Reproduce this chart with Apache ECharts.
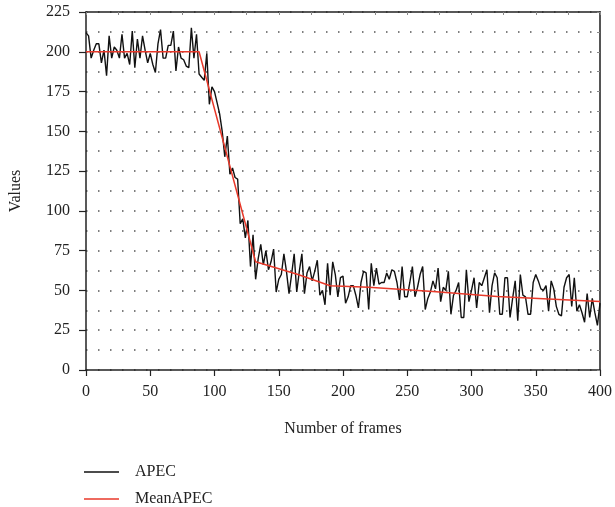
<!DOCTYPE html>
<html>
<head>
<meta charset="utf-8">
<script src="https://cdn.jsdelivr.net/npm/echarts@6/dist/echarts.min.js"></script>
<style>
  html, body { margin: 0; padding: 0; background: #fff; }
  #chart { width: 615px; height: 507px; }
</style>
</head>
<body>
<div id="chart"></div>
<script>
// APEC sampled every 2 frames (0..400)
var frameStep = 2;
var apecValues = [
  212, 210, 196, 201, 205, 205, 193, 201, 185, 210,
  196, 203, 201, 196, 211, 196, 199, 192, 213, 190,
  208, 196, 210, 201, 193, 199, 192, 187, 205, 214,
  196, 196, 204, 204, 213, 188, 203, 196, 195, 191,
  190, 215, 196, 211, 186, 184, 182, 199, 167, 178,
  175, 168, 161, 150, 134, 147, 123, 127, 121, 120,
  92, 95, 83, 94, 65, 85, 57, 70, 79, 66,
  75, 63, 68, 76, 49, 57, 60, 73, 62, 48,
  60, 73, 49, 62, 73, 48, 61, 65, 56, 62,
  69, 47, 50, 41, 67, 47, 68, 60, 46, 58,
  59, 42, 46, 53, 53, 47, 39, 55, 62, 61,
  38, 67, 53, 64, 54, 55, 55, 61, 57, 63,
  62, 55, 44, 65, 46, 46, 55, 65, 46, 52,
  60, 65, 38, 45, 49, 56, 51, 64, 43, 52,
  50, 62, 35, 47, 50, 55, 33, 33, 63, 43,
  50, 58, 39, 55, 53, 58, 63, 36, 53, 61,
  58, 35, 35, 58, 58, 33, 45, 56, 31, 60,
  47, 46, 35, 35, 55, 60, 56, 51, 50, 53,
  37, 56, 51, 40, 35, 34, 52, 58, 60, 40,
  58, 37, 41, 36, 30, 48, 33, 45, 36, 28,
  42
];
// MeanAPEC breakpoints
var meanFrames = [0, 88, 132, 165, 190, 220, 270, 320, 400];
var meanValues = [200, 200, 68, 60, 53, 52, 49.3, 46.2, 43];

var seriesNames = ['APEC', 'MeanAPEC'];
var xTicks = [0, 50, 100, 150, 200, 250, 300, 350, 400];
var yTicks = [0, 25, 50, 75, 100, 125, 150, 175, 200, 225];

var apecData = apecValues.map(function (v, i) { return [i * frameStep, v]; });
var meanData = meanFrames.map(function (f, i) { return [f, meanValues[i]]; });

var font = 'Liberation Serif';
var myChart = echarts.init(document.getElementById('chart'));
var option = {
  animation: false,
  textStyle: { fontFamily: font },
  grid: { left: 85, right: 10, top: 12, bottom: 137 },
  legend: {
    orient: 'vertical',
    left: 79,
    top: 459,
    height: 60,
    icon: 'rect',
    itemWidth: 35,
    itemHeight: 1.5,
    itemGap: 11,
    textStyle: { fontFamily: font, fontSize: 16, color: '#222', padding: [0, 0, 0, 11] },
    data: seriesNames
  },
  xAxis: [{
    type: 'value',
    min: xTicks[0],
    max: xTicks[xTicks.length - 1],
    interval: 50,
    name: 'Number of frames',
    nameLocation: 'middle',
    nameGap: 51,
    nameTextStyle: { fontFamily: font, fontSize: 16, color: '#222' },
    axisLine: { lineStyle: { color: '#222', width: 1.5 } },
    axisTick: { inside: false, length: 6, lineStyle: { color: '#222', width: 1.2 } },
    axisLabel: { margin: 14, fontFamily: font, fontSize: 16, color: '#222' },
    splitLine: { show: false }
  }, {
    type: 'value',
    position: 'top',
    min: xTicks[0],
    max: xTicks[xTicks.length - 1],
    interval: 25,
    axisLine: { show: true, onZero: false, lineStyle: { color: '#222', width: 1.5 } },
    axisTick: { inside: true, length: 3, lineStyle: { color: '#888' } },
    axisLabel: { show: false },
    splitLine: { show: false }
  }],
  yAxis: [{
    type: 'value',
    min: yTicks[0],
    max: yTicks[yTicks.length - 1],
    interval: 25,
    name: 'Values',
    nameLocation: 'middle',
    nameGap: 62,
    nameTextStyle: { fontFamily: font, fontSize: 16, color: '#222' },
    axisLine: { show: true, lineStyle: { color: '#222', width: 1.5 } },
    axisTick: { inside: false, length: 7, lineStyle: { color: '#222', width: 1.2 } },
    axisLabel: { margin: 16, fontFamily: font, fontSize: 16, color: '#222' },
    splitLine: { show: true, lineStyle: { color: '#555', width: 1.5, type: [1.5, 10.5] } },
    minorTick: { show: false, splitNumber: 2 },
    minorSplitLine: { show: true, lineStyle: { color: '#555', width: 1.5, type: [1.5, 10.5] } }
  }, {
    type: 'value',
    position: 'right',
    min: yTicks[0],
    max: yTicks[yTicks.length - 1],
    interval: 12.5,
    axisLine: { show: true, onZero: false, lineStyle: { color: '#555', width: 2 } },
    axisTick: { show: true, inside: true, length: 3, lineStyle: { color: '#888' } },
    axisLabel: { show: false },
    splitLine: { show: false }
  }],
  series: [{
    name: seriesNames[0],
    type: 'line',
    data: apecData,
    symbol: 'none',
    lineStyle: { color: '#111', width: 1.4 },
    itemStyle: { color: '#111' },
    z: 2
  }, {
    name: seriesNames[1],
    type: 'line',
    data: meanData,
    symbol: 'none',
    lineStyle: { color: '#e8392a', width: 1.5 },
    itemStyle: { color: '#e8392a' },
    z: 3
  }]
};
myChart.setOption(option);
window.addEventListener('resize', function () {
  myChart.resize();
});
</script>
</body>
</html>
